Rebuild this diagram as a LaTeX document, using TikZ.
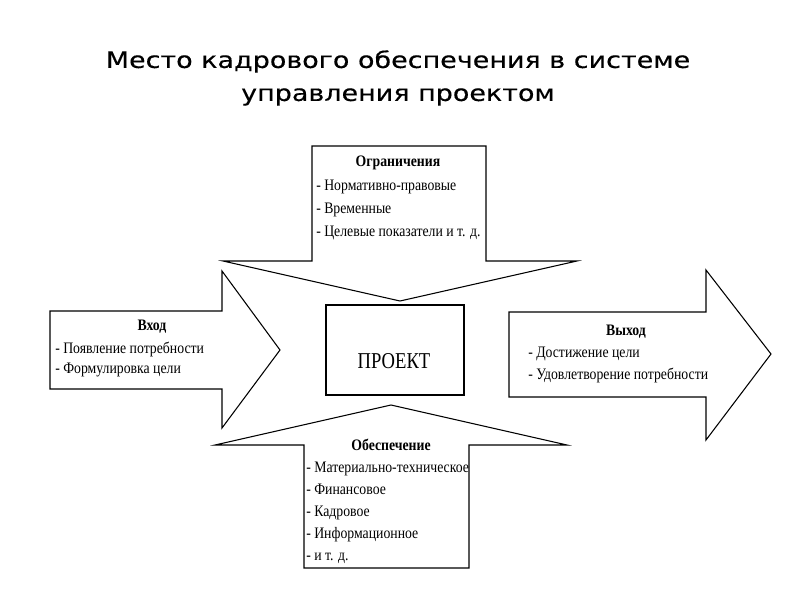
\documentclass[tikz,border=0pt]{standalone}
\usepackage{fontspec}
\setmainfont{Liberation Serif}
\newfontfamily\titlefont[FakeStretch=1.19,FakeBold=0.3]{DejaVu Sans}
\newfontfamily\diagfont[FakeStretch=0.86]{Liberation Serif}
\newfontfamily\projfont[FakeStretch=0.82]{Liberation Serif}

\tikzset{
  shapeline/.style={draw=black, line width=0.8pt, line join=miter, fill=white},
  titletext/.style={font=\titlefont\fontsize{17}{24.75}\selectfont, align=center, inner sep=0pt},
  headtext/.style={font=\diagfont\bfseries\fontsize{12}{14}\selectfont, inner sep=0pt},
  listtext/.style={font=\diagfont\fontsize{12}{#1}\selectfont, align=left, anchor=north west, inner sep=0pt},
  projbox/.style={draw=black, line width=0.8pt, fill=white, minimum width=103.5pt, minimum height=67.5pt, inner sep=0pt},
  projtext/.style={font=\projfont\fontsize{17}{20}\selectfont, inner sep=0pt}
}

\begin{document}
\begin{tikzpicture}[x=0.75pt,y=-0.75pt]
  \useasboundingbox (0,0) rectangle (800,600);

  % Title
  \node[titletext] (title) at (398,78) {Место кадрового обеспечения в системе\\управления проектом};

  % Arrow shapes
  \draw[shapeline] (312,146) -- (486,146) -- (486,261) -- (577,261) -- (400,301)
    -- (223,261) -- (312,261) -- cycle;
  \draw[shapeline] (50,311) -- (222,311) -- (222,271) -- (280,350) -- (222,428)
    -- (222,389) -- (50,389) -- cycle;
  \draw[shapeline] (509,312) -- (706,312) -- (706,270) -- (771,354) -- (706,440)
    -- (706,397) -- (509,397) -- cycle;
  \draw[shapeline] (391,405) -- (567,445) -- (469,445) -- (469,568) -- (304,568)
    -- (304,445) -- (215,445) -- cycle;

  % Project
  \node[projbox] (proj) at (395,350) {};
  \node[projtext] (projlabel) at (394,361) {ПРОЕКТ};

  % Constraints
  \node[headtext] (limhead) at (398,163) {Ограничения};
  \node[listtext=17.25pt] (limlist) at (316,180) {- Нормативно-правовые\\- Временные\\- Целевые показатели и т. д.};

  % Input
  \node[headtext] (inhead) at (152,327) {Вход};
  \node[listtext=15pt] (inlist) at (55,342) {- Появление потребности\\- Формулировка цели};

  % Output
  \node[headtext] (outhead) at (626,332) {Выход};
  \node[listtext=16.5pt] (outlist) at (528,347) {- Достижение цели\\- Удовлетворение потребности};

  % Resources
  \node[headtext] (reshead) at (391,445) {Обеспечение};
  \node[listtext=16.5pt] (reslist) at (306,462) {- Материально-техническое\\- Финансовое\\- Кадровое\\- Информационное\\- и т. д.};
\end{tikzpicture}
\end{document}
